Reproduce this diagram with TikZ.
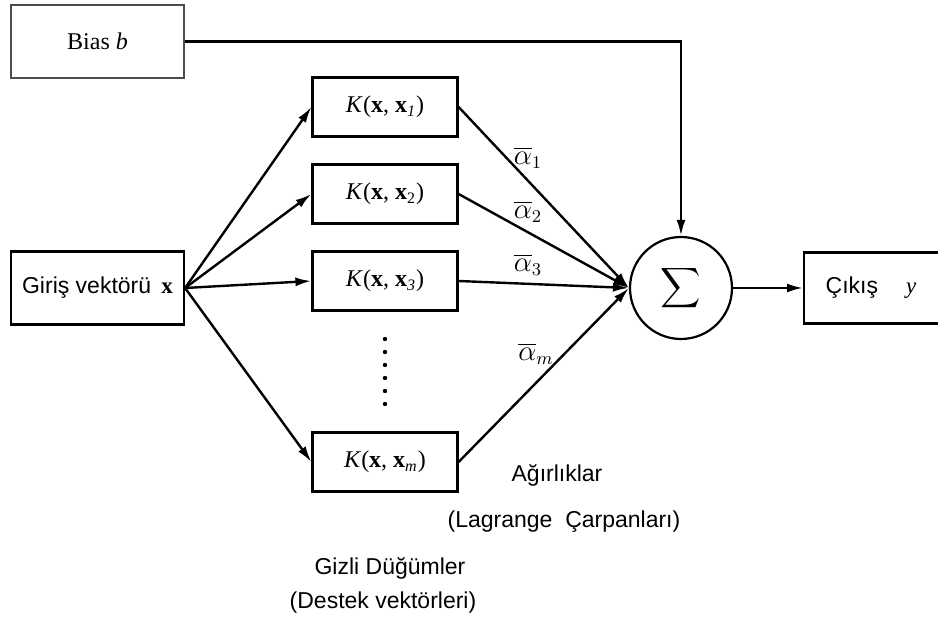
\documentclass[tikz,border=0pt]{standalone}
\usepackage{fontspec}
\setmainfont{Liberation Serif}
\setsansfont{Liberation Sans}
\usetikzlibrary{arrows.meta}

\begin{document}
\begin{tikzpicture}[x=0.5pt,y=-0.5pt,
    >={Latex[length=8pt,width=4.5pt]},
    kbox/.style={draw,line width=1.1pt,minimum width=72.5pt,minimum height=29.5pt,
      inner sep=0pt,font=\fontsize{12}{14}\selectfont},
    inbox/.style={draw,line width=1.1pt,minimum width=86.5pt,minimum height=36.5pt,
      inner sep=0pt,font=\sffamily\fontsize{11.5}{14}\selectfont},
    weight/.style={font=\fontsize{13.5}{15}\selectfont},
    caption/.style={font=\sffamily\fontsize{11.5}{14}\selectfont}]
  \useasboundingbox (0,0) rectangle (938,619);
  % boxes
  \node[draw=black!70,line width=0.6pt,minimum width=86.5pt,minimum height=36.5pt,
    inner sep=0pt,font=\fontsize{12}{14}\selectfont] (bias) at (97.5,41.5) {Bias \textit{b}};
  \node[inbox] (input) at (97.5,288) {Giriş vektörü\, \textbf{\rmfamily x}};
  \node[kbox] (k1) at (385,107) {\textit{K}(\textbf{x}, \textbf{x}\textsubscript{\textit{1}})};
  \node[kbox] (k2) at (385,194) {\textit{K}(\textbf{x}, \textbf{x}\textsubscript{2})};
  \node[kbox] (k3) at (385,281) {\textit{K}(\textbf{x}, \textbf{x}\textsubscript{\textit{3}})};
  \node[kbox] (km) at (385,462) {\textit{K}(\textbf{x}, \textbf{x}\textsubscript{\textit{m}})};
  \node[draw,circle,line width=1.1pt,minimum size=51pt,inner sep=0pt] (sum) at (681,288)
    {\scalebox{1.4}{$\displaystyle\sum$}};
  \node[draw,line width=1.1pt,anchor=west,minimum width=85pt,minimum height=35.5pt,
    inner sep=0pt] (out) at (803,288) {};
  \node[font=\sffamily\fontsize{11.5}{14}\selectfont] (outtext) at (871,288)
    {Çıkış\hspace{14pt}{\rmfamily\textit{y}}};
  % dots
  \foreach \y in {339,352,...,404}
    \fill (385,\y) circle (1.1pt);
  % labels
  \node[weight] (a1) at (528,158) {$\overline{\alpha}_1$};
  \node[weight] (a2) at (528,212) {$\overline{\alpha}_2$};
  \node[weight] (a3) at (528,265) {$\overline{\alpha}_3$};
  \node[weight] (am) at (536,354) {$\overline{\alpha}_m$};
  \node[caption] (w) at (557,475) {Ağırlıklar};
  \node[caption] (lag) at (564,522) {(Lagrange\ \ Çarpanları)};
  \node[caption] (hid) at (390,568) {Gizli Düğümler};
  \node[caption] (sv) at (383,603) {(Destek vektörleri)};
  \begin{scope}[->,line width=1.2pt]
    \draw (input.east) to (k1.west);
    \draw (input.east) to (k2.west);
    \draw (input.east) to (k3.west);
    \draw (input.east) to (km.west);
    \draw (k1.east) to (sum.west);
    \draw (k2.east) to (sum.west);
    \draw (k3.east) to (sum.west);
    \draw (km.east) to (sum.west);
    \draw (bias.east) -| (sum.north);
    \draw (sum.east) to (out.west);
  \end{scope}
\end{tikzpicture}
\end{document}
